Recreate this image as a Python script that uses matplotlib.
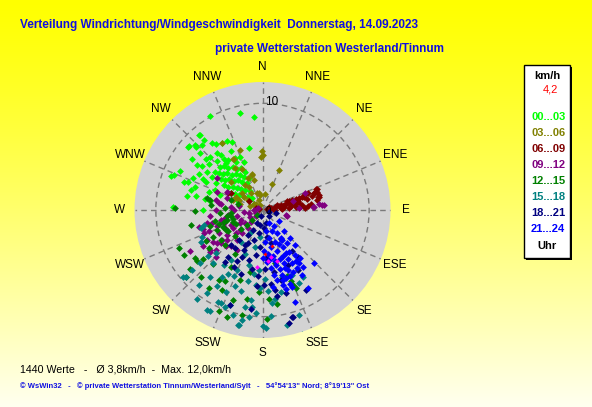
import matplotlib
matplotlib.use("Agg")
import matplotlib.pyplot as plt
import numpy as np
from matplotlib.patches import Rectangle

plt.rcParams['font.family'] = ['Liberation Sans', 'DejaVu Sans']

W, H = 592, 407

compass = ['N', 'NNE', 'NE', 'ENE', 'E', 'ESE', 'SE', 'SSE',
           'S', 'SSW', 'SW', 'WSW', 'W', 'WNW', 'NW', 'NNW']

slot_labels = ['00...03', '03...06', '06...09', '09...12',
               '12...15', '15...18', '18...21', '21...24']
slot_colors = ['#00FF00', '#808000', '#800000', '#800080',
               '#008000', '#008080', '#000080', '#0000FF']

# readings as (east, north) wind components in km/h
wind_00_03 = [
    (-2.1, 9.1), (-0.8, 8.7), (-4.9, 8.8), (-5.9, 7.0), (-5.5, 6.6), (-6.2, 5.9),
    (-5.7, 6.1), (-7.0, 5.9), (-6.0, 7.0), (-8.6, 3.2), (-8.4, 0.3), (-7.7, 3.7),
    (-7.1, 1.3), (-8.3, 3.3), (-6.9, 6.0), (-6.3, 6.1), (-7.0, 2.65), (-6.75, 1.9),
    (-6.3, 2.2), (-5.6, 0.0), (-4.9, 0.8), (-5.0, 1.7), (-5.3, 2.6), (-4.7, 3.1),
    (-5.2, 3.6), (-5.7, 4.1), (-6.1, 4.2), (-4.7, 6.25), (-4.4, 6.2), (-3.8, 6.25),
    (-3.3, 6.5), (-2.9, 6.4), (-1.3, 5.8), (-2.1, 5.0), (-5.3, 4.75), (-4.9, 5.0),
    (-4.25, 5.3), (-3.9, 5.2), (-3.6, 4.8), (-3.2, 4.7), (-2.5, 4.5), (-1.75, 4.5),
    (-4.0, 4.0), (-3.6, 4.1), (-3.2, 3.9), (-2.8, 4.0), (-2.4, 3.8), (-2.0, 3.9),
    (-1.6, 3.6), (-4.1, 3.5), (-3.7, 3.4), (-3.3, 3.5), (-2.9, 3.3), (-2.5, 3.4),
    (-2.1, 3.3), (-1.7, 3.1), (-1.3, 3.0), (-3.9, 2.9), (-3.5, 2.8), (-3.1, 2.9),
    (-2.7, 2.7), (-2.3, 2.8), (-1.9, 2.6), (-1.5, 2.5), (-3.6, 2.3), (-3.2, 2.2),
    (-2.8, 2.2), (-2.4, 2.1), (-2.0, 2.0), (-1.6, 1.9), (-1.2, 1.8), (-3.0, 1.6),
    (-2.6, 1.5), (-2.2, 1.4), (-1.8, 1.3), (-1.4, 1.2), (-1.0, 1.1), (-2.4, 0.9),
    (-0.8, 0.6), (-6.5, 3.0), (-6.0, 3.4), (-5.6, 2.9), (-4.4, 2.5), (-4.5, 1.9),
    (-4.0, 1.4), (-4.5, 3.6), (-5.0, 4.3), (-3.4, 4.4), (-2.6, 4.9), (-3.0, 5.5),
    (-4.3, 4.6), (-5.9, 5.3), (-6.6, 4.8), (-7.4, 2.6), (-6.2, 1.3), (-5.4, 1.0),
]
wind_03_06 = [
    (-0.05, 5.5), (0.0, 5.2), (-0.1, 5.0), (1.5, 3.75), (0.85, 2.4), (-2.1, 5.6),
    (-3.8, 6.25), (-2.8, 4.8), (-2.6, 3.9), (-1.9, 3.8), (-1.0, 3.3), (-0.8, 2.8),
    (-1.3, 2.2), (-0.5, 1.6), (-0.2, 1.4), (-1.9, 1.6), (-2.5, 1.25), (-2.8, 0.9),
    (-1.4, 0.9), (-2.1, 0.6), (-0.8, 0.6), (-0.35, 0.9), (-0.2, 0.5), (-0.65, 0.3),
    (-2.7, 4.8), (-1.4, 3.0), (-1.0, 3.4), (-1.1, 1.6), (-0.35, 1.6), (-0.6, 0.6),
    (-1.75, 1.25), (-2.2, 0.9), (0.2, 1.5), (-3.0, 2.6), (-1.6, 2.3), (-0.3, 0.2),
    (-1.2, 0.4),
]
wind_06_09 = [
    (0.4, 0.05), (0.75, 0.15), (1.0, 0.1), (1.2, 0.3), (1.5, 0.35), (1.7, 0.45),
    (2.0, 0.5), (2.2, 0.55), (2.5, 0.8), (2.8, 0.95), (3.1, 1.0), (3.4, 1.1),
    (3.7, 1.25), (4.0, 1.5), (4.3, 1.6), (4.8, 1.6), (5.1, 1.7), (5.3, 1.4),
    (5.1, 0.95), (4.5, 0.6), (1.2, 0.0), (1.85, 0.05), (2.5, 0.15), (3.1, 0.3),
    (3.55, 0.25), (4.0, 0.15), (4.3, 0.35), (5.1, 2.0), (4.8, 1.6), (5.3, 1.25),
    (3.25, 0.9), (3.9, 1.25), (2.3, 0.8), (1.4, 0.5), (5.0, 2.0), (5.2, 1.25),
    (2.7, 0.4), (3.0, 0.6), (3.4, 0.7), (1.7, 0.2), (2.0, 0.25), (0.6, 0.3),
    (-3.2, 1.6), (-1.3, 0.8), (-3.0, 1.6), (-0.65, 0.15), (-0.3, 0.1), (4.6, 1.3),
    (4.2, 1.0), (3.7, 0.5), (2.6, 0.6), (2.9, 0.75), (3.3, 0.85), (1.9, 0.35),
]
wind_09_12 = [
    (5.6, 0.5), (5.3, 0.6), (5.75, 0.5), (4.8, 0.3), (3.4, 0.15), (2.3, -0.55),
    (4.7, 0.3), (4.0, 1.6), (2.9, 0.8), (2.2, -0.5), (-4.7, -1.25), (-4.25, -1.5),
    (-3.6, -0.8), (-3.0, -1.4), (-2.4, -0.6), (-1.75, -0.15), (-1.3, -0.3), (-0.8, 0.0),
    (-2.7, 0.0), (-3.0, 0.3), (-3.3, 1.1), (-3.9, 0.6), (-4.4, 0.9), (-4.25, 1.7),
    (-2.8, -1.7), (-3.3, -2.3), (-3.8, -2.8), (-4.25, -3.1), (-4.9, -3.75), (-5.2, -2.8),
    (-5.5, -2.2), (-3.0, -3.4), (-2.4, -2.8), (-1.9, -2.2), (-1.4, -1.7), (-1.1, -1.1),
    (-0.65, -0.6), (-2.1, -1.25), (-4.1, 0.7), (-4.4, 0.0), (-4.9, -0.6), (-5.2, -1.25),
    (-3.9, -0.9), (-3.5, -1.7), (-4.1, -2.2), (-4.6, -3.0), (-4.9, -3.9), (-4.4, -3.75),
    (-3.9, -3.1), (-3.3, -2.8), (-2.5, -2.2), (-2.1, -1.9), (-1.6, -1.25), (-0.65, -0.3),
    (-2.4, -3.75), (-3.6, -1.2), (-3.2, -0.5), (-2.0, -0.9), (-1.2, -0.7), (-0.4, 0.2),
    (-2.2, 0.4), (-5.6, -1.8), (-6.0, -1.6), (-5.0, -2.0), (-4.25, 3.0), (-3.3, 1.7),
    (-6.8, -3.8), (-5.6, -3.4), (-4.4, -4.4), (-3.4, -3.4),
]
wind_12_15 = [
    (-8.25, 0.15), (-3.0, -0.6), (-3.3, -0.9), (-2.8, -1.1), (-3.0, 0.9), (-3.5, 0.2),
    (-4.0, -0.3), (-7.8, -3.6), (-7.4, -4.2), (-6.8, -5.5), (-6.1, -4.8), (-7.2, -6.25),
    (-6.3, -4.5), (-5.8, -6.25), (-5.0, -3.6), (-4.1, -6.6), (-3.8, -7.5), (-3.5, -6.7),
    (-3.0, -0.3), (-3.3, -0.6), (-2.8, -0.8), (-2.5, -1.3), (-3.5, -3.3), (-3.9, -2.8),
    (-2.1, -6.6), (-1.9, -9.8), (0.45, -10.2), (0.6, -8.3), (2.9, -7.0), (3.1, -7.3),
    (2.7, -6.7), (-4.1, -9.5), (-4.6, -2.5), (-4.3, -1.9), (-3.7, -1.6), (-3.2, -2.0),
    (-2.6, -2.4), (-2.0, -1.8), (-1.5, -1.4), (-1.0, -0.9), (-0.5, -0.5), (-4.9, -1.5),
    (-4.5, -1.0), (-5.3, -2.9), (-5.6, -4.6), (-4.6, -5.1), (-3.0, -5.3), (-2.6, -4.1),
    (-1.2, -5.8), (-0.3, -7.7), (1.4, -8.8), (-1.5, -8.3), (-2.8, -8.4), (-5.0, -7.3),
    (-3.3, -10.0), (-5.2, 1.1), (-6.3, -0.1), (-6.7, -1.4), (-4.8, 0.5), (-2.3, 0.6),
    (2.3, -6.2), (1.2, -5.0), (-4.9, 0.9), (-3.6, -1.1), (-4.1, -1.3), (-3.4, -1.9),
]
wind_15_18 = [
    (-5.8, -1.7), (-5.7, -2.5), (-7.2, -6.25), (-6.0, -7.0), (-5.2, -7.8), (-4.9, -9.5),
    (-3.9, -8.75), (-3.5, -9.1), (-3.0, -8.9), (-2.2, -10.8), (-1.6, -9.1), (-1.1, -8.4),
    (-1.0, -9.1), (0.3, -11.1), (-0.65, -7.0), (-0.2, -7.3), (-2.4, -5.6), (-3.0, -4.7),
    (-3.6, -5.2), (-4.6, -5.0), (-4.9, -6.25), (-1.4, -6.7), (-1.3, -5.2), (-1.6, -4.1),
    (-5.5, -1.4), (-5.8, -3.0), (3.7, -11.6), (-2.3, -10.8), (0.0, -10.9), (2.3, -10.8),
    (3.4, -9.8), (0.9, -8.75), (1.2, -8.3), (-5.2, -9.4), (-6.1, -8.3), (-7.5, -6.25),
    (-5.9, -5.0), (-4.2, -8.6), (-3.4, -7.7), (-1.9, -10.3), (-1.3, -10.0), (-0.6, -9.7),
    (0.5, -7.6), (1.7, -7.7), (1.8, -6.3), (2.8, -6.1), (3.75, -6.25), (3.4, -6.8),
    (-2.7, -6.2), (-3.8, -6.3), (-4.3, -7.1), (-2.0, -7.6), (-2.6, -7.1), (-0.8, -6.0),
    (-0.3, -5.6), (0.2, -6.5), (-4.4, -4.0), (-5.1, -4.3), (-2.0, -3.0), (-0.7, -3.5),
    (-0.2, -2.5), (-1.2, -2.2), (-3.2, -6.0), (-6.6, -5.6), (0.8, -9.9), (-2.8, -9.8),
]
wind_18_21 = [
    (-0.2, -1.4), (0.1, -1.7), (-0.35, -2.2), (-0.8, -2.8), (-1.4, -3.1), (-1.75, -3.75),
    (-1.9, -4.4), (-1.3, -4.7), (-2.4, -4.8), (-2.2, -2.8), (-1.4, -2.3), (-0.9, -1.9),
    (-0.5, -1.25), (0.3, -1.25), (0.45, -2.5), (0.75, -3.1), (1.7, -6.6), (1.2, -7.5),
    (1.4, -8.1), (2.9, -10.0), (2.5, -10.6), (-3.0, -8.9), (0.75, -6.9), (0.1, -7.0),
    (-0.5, -7.1), (-2.7, -5.3), (1.7, -2.75), (1.25, -0.3), (0.6, -0.6), (4.1, -7.5),
    (2.8, -10.0), (-0.2, -3.5), (-0.6, -4.2), (-1.0, -5.5), (0.3, -4.5), (-2.0, -6.0),
    (-1.6, -3.3), (-2.6, -3.6), (-3.2, -4.4), (-3.0, -3.3), (-0.1, -0.6), (0.2, -5.5),
    (1.1, -5.8), (-0.4, -6.2), (0.6, -0.2), (-3.5, -4.9), (3.3, -5.6), (2.2, -7.8),
    (-1.1, -9.3), (2.8, -3.8), (3.3, -4.4), (2.4, -5.2),
]
wind_21_24 = [
    (1.7, -2.65), (2.3, -3.1), (3.0, -4.2), (3.1, -4.8), (3.4, -5.0), (2.2, -6.4),
    (1.9, -7.0), (3.0, -8.6), (4.8, -5.0), (1.85, -2.8), (4.3, -7.3), (2.9, -5.8),
    (3.2, -5.4), (3.7, -6.1), (1.1, -1.5), (0.9, -2.0), (1.4, -2.2), (0.6, -2.6),
    (1.2, -3.0), (1.9, -3.5), (0.8, -3.5), (1.4, -3.8), (2.5, -3.9), (0.5, -4.1),
    (1.0, -4.3), (1.9, -4.3), (2.4, -4.6), (0.4, -4.9), (1.2, -4.8), (2.0, -5.0),
    (2.8, -5.0), (0.8, -5.4), (1.6, -5.5), (2.4, -5.6), (1.1, -6.1), (1.8, -6.1),
    (2.6, -6.2), (1.4, -6.6), (2.6, -6.9), (0.2, -3.0), (0.3, -2.0), (0.1, -3.8),
    (3.5, -4.5), (3.8, -5.3), (1.0, -7.2), (2.2, -7.4), (2.8, -7.2), (0.0, -4.5),
    (0.6, -1.2), (1.5, -1.0), (2.0, -2.0), (2.6, -2.6), (3.0, -3.3), (1.5, -3.2),
    (2.2, -4.0), (1.6, -4.6), (2.1, -5.4), (1.3, -5.2), (1.9, -6.6), (0.7, -4.6),
]
# the few pink / red readings inside the late evening cluster
wind_pink = [(-0.5, -5.3), (0.5, -4.8), (1.4, -4.8), (0.8, -4.4)]
wind_red = [(0.2, -4.1), (0.9, -3.4)]

readings = [wind_00_03, wind_03_06, wind_06_09, wind_09_12,
            wind_12_15, wind_15_18, wind_18_21, wind_21_24]

ring_speed = 10
current_speed = '4,2'
footer_stats = '1440 Werte   -   Ø 3,8km/h  -  Max. 12,0km/h'
footer_src = ('© WsWin32   -   © private Wetterstation Tinnum/Westerland/Sylt'
              '   -   54°54\'13" Nord; 8°19\'13" Ost')


def fx(x):
    return x / W


def fy(y):
    return 1 - y / H


def to_polar(pts):
    e, n = np.array(pts).T
    return np.arctan2(e, n), np.hypot(e, n)


fig = plt.figure(figsize=(W / 100, H / 100), dpi=100)

# yellow gradient background
bg = fig.add_axes([0, 0, 1, 1], zorder=0)
t = np.linspace(0, 1, H)
grad = np.ones((H, 1, 3))
grad[:, 0, 2] = 0.94 * t ** 1.2
bg.imshow(grad, aspect='auto', extent=[0, 1, 0, 1])
bg.set_axis_off()

ax = fig.add_axes([fx(262.5 - 128), fy(210 + 128), 256 / W, 256 / H],
                  projection='polar', zorder=1)
ax.set_theta_zero_location('N')
ax.set_theta_direction(-1)
ax.set_facecolor('#D3D3D3')
ax.spines['polar'].set_visible(False)

grid_style = dict(color='#7A7A7A', linestyle=(0, (4, 3)), linewidth=1.0)
angles = np.deg2rad(np.arange(0, 360, 22.5))
ax.set_xticks(angles)
ax.set_xticklabels([])
ax.set_yticks([ring_speed])
ax.set_yticklabels([''])
ax.xaxis.grid(True, **grid_style)
ax.yaxis.grid(True, **grid_style)

for pts, color in zip(readings, slot_colors):
    th, r = to_polar(pts)
    ax.scatter(th, r, s=12, marker='D', c=color, linewidths=0, zorder=3)
th, r = to_polar(wind_pink)
ax.scatter(th, r, s=6, marker='D', c='#FF00FF', linewidths=0, zorder=4)
th, r = to_polar(wind_red)
ax.scatter(th, r, s=4, marker='D', c='#FF0000', linewidths=0, zorder=4)

ax.set_ylim(0, 12)
for a, name in zip(angles, compass):
    ax.text(a, 13.45, name, fontsize=8.5, ha='center', va='center', clip_on=False)
ax.text(np.deg2rad(5), ring_speed + 0.2, str(ring_speed), fontsize=8.5,
        ha='center', va='center', zorder=5)
ax.text(np.deg2rad(100), 0.55, '0', fontsize=7, ha='center', va='center', zorder=5)

# titles
fig.text(fx(20), fy(25), 'Verteilung Windrichtung/Windgeschwindigkeit  Donnerstag, 14.09.2023',
         color='#1010E0', fontsize=8.5, fontweight='bold', ha='left', va='center')
fig.text(fx(215), fy(49), 'private Wetterstation Westerland/Tinnum',
         color='#1010E0', fontsize=8.5, fontweight='bold', ha='left', va='center')

# legend box with shadow
fig.patches.append(Rectangle((fx(526), fy(260)), 46 / W, 193 / H, transform=fig.transFigure,
                             facecolor='black', edgecolor='none', zorder=2))
fig.patches.append(Rectangle((fx(524), fy(258)), 46 / W, 193 / H, transform=fig.transFigure,
                             facecolor='white', edgecolor='black', linewidth=1, zorder=3))
fig.text(fx(547), fy(76), 'km/h', fontsize=8, fontweight='bold', ha='center', va='center', zorder=4)
fig.text(fx(550), fy(90), current_speed, fontsize=8, color='#FF0000', ha='center', va='center', zorder=4)
for i, (label, color) in enumerate(zip(slot_labels, slot_colors)):
    fig.text(fx(531), fy(117 + 16 * i), label, fontsize=8, fontweight='bold', color=color,
             ha='left', va='center', zorder=4)
fig.text(fx(547), fy(246), 'Uhr', fontsize=8, fontweight='bold', ha='center', va='center', zorder=4)

# footer
fig.text(fx(20), fy(369), footer_stats, fontsize=7.7, ha='left', va='center')
fig.text(fx(20), fy(386), footer_src, fontsize=5.5, fontweight='bold', color='#1010E0',
         ha='left', va='center')

fig.savefig('out.png', dpi=100)
